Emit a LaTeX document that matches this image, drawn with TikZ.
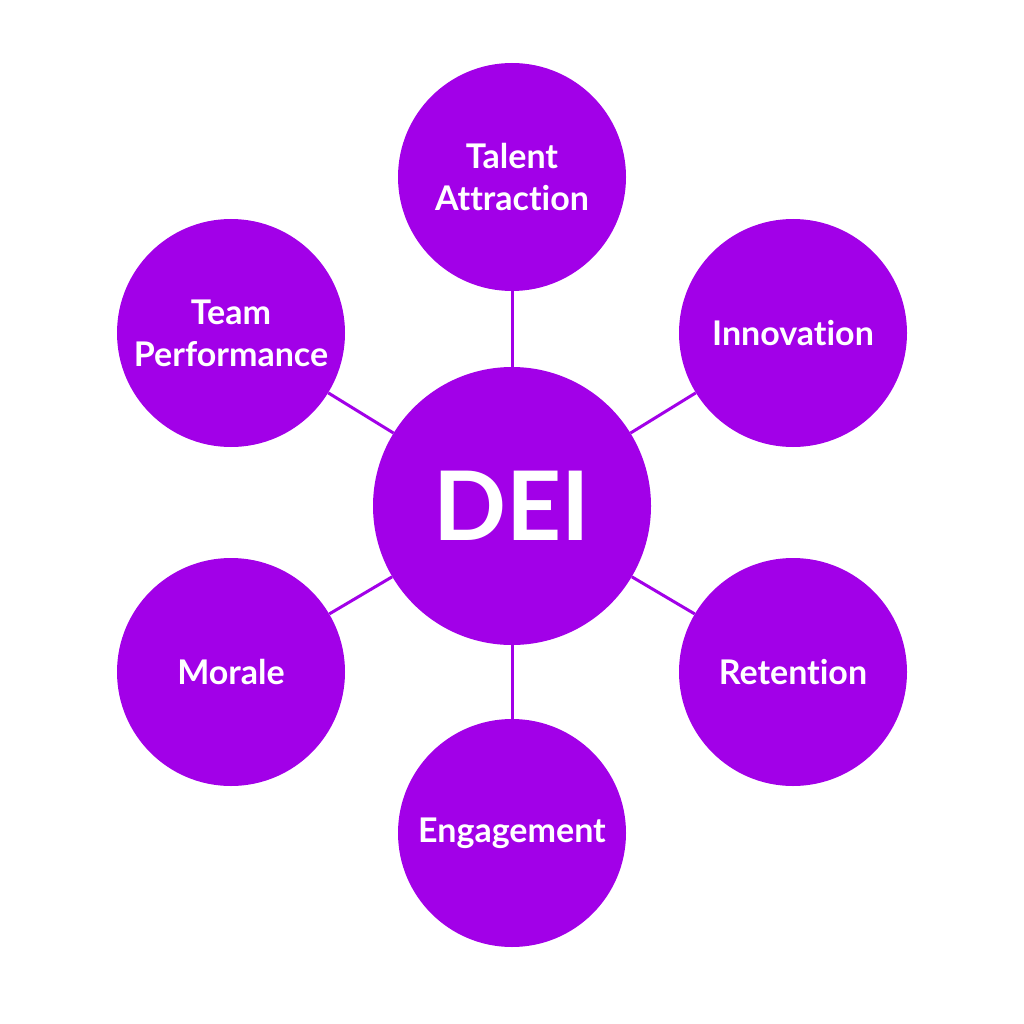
\documentclass[tikz,border=0pt]{standalone}
\usepackage{fontspec}
\setmainfont{Lato}[UprightFont=* Bold,Ligatures=NoCommon]
\definecolor{dpurple}{HTML}{A200E8}
\begin{document}
\begin{tikzpicture}[x=1pt,y=-1pt,
  hub/.style={circle,fill=dpurple,minimum size=278pt,inner sep=0pt,text=white,font=\fontsize{96}{96}\selectfont},
  leaf/.style={circle,fill=dpurple,minimum size=228pt,inner sep=0pt,text=white,align=center,font=\fontsize{34}{42}\selectfont},
  link/.style={draw=dpurple,line width=3pt}]
\useasboundingbox (0,0) rectangle (1024,1024);
\fill[white] (0,0) rectangle (1024,1024);
\node[hub] (dei) at (512,506) {DEI};
\node[leaf] (ta) at (512,177) {Talent\\Attraction};
\node[leaf] (in) at (793,333) {Innovation};
\node[leaf] (re) at (793,672) {Retention};
\node[leaf] (en) at (512,833) {Engagement};
\node[leaf] (mo) at (231,672) {Morale};
\node[leaf] (tp) at (231,333) {Team\\Performance};
\foreach \n in {ta,in,re,en,mo,tp} \draw[link] (dei) -- (\n);
\end{tikzpicture}
\end{document}
